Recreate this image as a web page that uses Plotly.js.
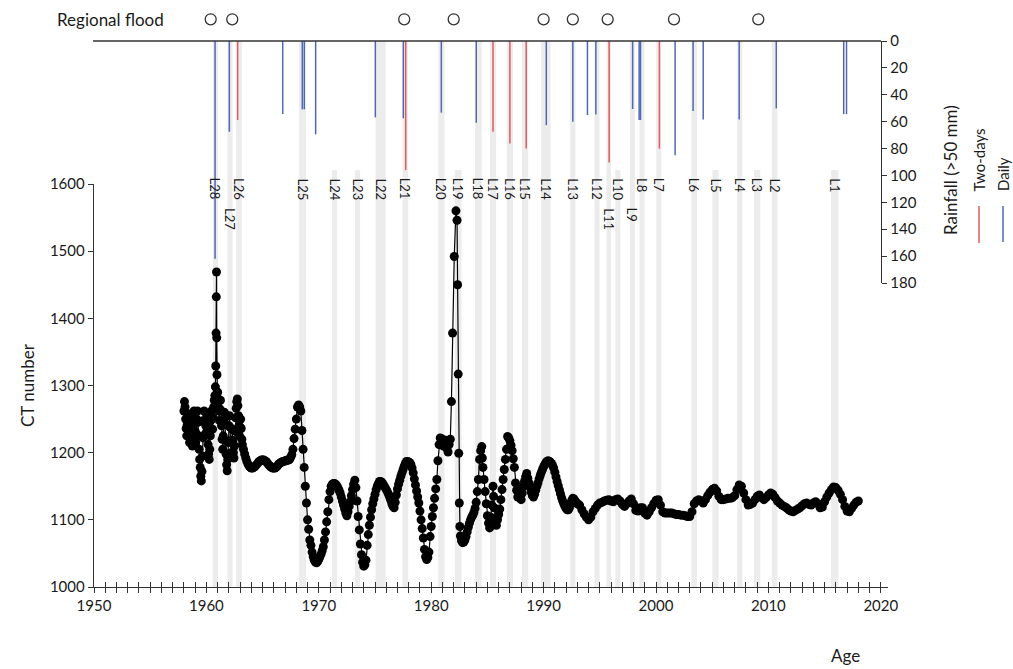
<!DOCTYPE html>
<html><head><meta charset="utf-8">
<script src="https://cdn.plot.ly/plotly-3.0.1.min.js"></script>
<style>html,body{margin:0;padding:0;background:#fff}#chart{width:1013px;height:669px}</style>
</head><body><div id="chart"></div>
<script>
// ---- CT number series ----
const ctYear = [
1958.0,1958.05,1958.1,1958.15,1958.2,1958.25,1958.3,1958.35,1958.4,1958.45,1958.5,1958.55,1958.6,1958.65,1958.7,1958.75,1958.8,1958.85,1958.9,1958.95,
1959.0,1959.05,1959.1,1959.15,1959.2,1959.25,1959.3,1959.35,1959.4,1959.45,1959.5,1959.55,1959.6,1959.65,1959.7,1959.75,1959.8,1959.85,1959.9,1959.95,
1960.0,1960.05,1960.1,1960.15,1960.2,1960.25,1960.3,1960.35,1960.4,1960.45,1960.5,1960.55,1960.6,1960.65,1960.7,1960.75,1960.8,1960.83,1960.86,1960.88,1960.9,1960.92,1960.94,1960.96,1960.98,
1961.0,1961.05,1961.1,1961.15,1961.2,1961.25,1961.3,1961.35,1961.4,1961.45,1961.5,1961.55,1961.6,1961.65,1961.7,1961.75,1961.8,1961.85,1961.9,1961.95,
1962.0,1962.05,1962.1,1962.15,1962.2,1962.25,1962.3,1962.35,1962.4,1962.45,1962.5,1962.55,1962.6,1962.65,1962.7,1962.75,1962.8,1962.85,1962.9,1962.95,
1963.0,1963.05,1963.1,1963.15,1963.2,1963.3,1963.4,1963.5,1963.6,1963.7,1963.8,1963.9,1964.0,1964.1,1964.2,
1964.3,1964.4,1964.5,1964.6,1964.7,1964.8,1964.9,1965.0,1965.1,1965.2,1965.3,1965.4,1965.5,1965.6,1965.7,1965.8,1965.9,
1966.0,1966.1,1966.2,1966.3,1966.4,1966.5,1966.6,1966.7,1966.8,1966.9,1967.0,1967.1,1967.2,1967.3,1967.4,1967.5,1967.6,1967.7,1967.8,1967.9,
1968.0,1968.1,1968.2,1968.3,1968.4,1968.5,1968.6,1968.7,1968.8,1968.9,1969.0,1969.1,1969.2,1969.3,1969.4,1969.5,1969.6,1969.7,1969.8,1969.9,
1970.0,1970.1,1970.2,1970.3,1970.4,1970.5,1970.6,1970.7,1970.8,1970.9,1971.0,1971.1,1971.2,1971.3,1971.4,1971.5,1971.6,1971.7,1971.8,1971.9,
1972.0,1972.1,1972.2,1972.3,1972.4,1972.5,1972.6,1972.7,1972.8,1972.9,1973.0,1973.1,1973.2,1973.3,1973.4,1973.5,1973.6,1973.7,1973.8,1973.9,
1974.0,1974.1,1974.2,1974.3,1974.4,1974.5,1974.6,1974.7,1974.8,1974.9,1975.0,1975.1,1975.2,1975.3,1975.4,1975.5,1975.6,1975.7,1975.8,1975.9,
1976.0,1976.1,1976.2,1976.3,1976.4,1976.5,1976.6,1976.7,1976.8,1976.9,1977.0,1977.1,1977.2,1977.3,1977.4,1977.5,1977.6,1977.7,1977.8,1977.9,
1978.0,1978.1,1978.2,1978.3,1978.4,1978.5,1978.6,1978.7,1978.8,1978.9,1979.0,1979.1,1979.2,1979.3,1979.4,1979.5,1979.6,1979.7,1979.8,1979.9,
1980.0,1980.1,1980.2,1980.3,1980.4,1980.5,1980.6,1980.7,1980.8,1980.9,1981.0,1981.1,1981.2,1981.3,1981.4,1981.5,1981.6,1981.7,1981.8,1981.9,
1982.05,1982.2,1982.3,1982.35,1982.4,1982.45,1982.5,1982.55,1982.6,1982.7,1982.8,1982.9,
1983.0,1983.1,1983.2,1983.3,1983.4,1983.5,1983.6,1983.7,1983.8,1983.9,1984.0,1984.1,1984.2,1984.3,1984.4,1984.5,1984.55,1984.6,1984.7,1984.8,1984.9,
1985.0,1985.1,1985.2,1985.3,1985.4,1985.5,1985.55,1985.6,1985.7,1985.8,1985.9,1986.0,1986.1,1986.2,1986.3,1986.4,1986.5,1986.6,1986.7,1986.8,1986.9,
1987.0,1987.1,1987.2,1987.3,1987.4,1987.5,1987.6,1987.7,1987.8,1987.9,1988.0,1988.1,1988.2,1988.3,1988.4,1988.5,1988.6,1988.7,1988.8,1988.9,
1989.0,1989.1,1989.2,1989.3,1989.4,1989.5,1989.6,1989.7,1989.8,1989.9,1990.0,1990.1,1990.2,1990.3,1990.4,1990.5,1990.6,1990.7,1990.8,1990.9,
1991.0,1991.1,1991.2,1991.3,1991.4,1991.5,1991.6,1991.7,1991.8,1991.9,1992.0,1992.1,1992.2,1992.3,1992.4,1992.5,1992.6,1992.7,1992.8,1992.9,1993.0,
1993.2,1993.4,1993.6,1993.8,1994.0,1994.2,1994.4,1994.6,1994.8,1995.0,1995.2,1995.4,1995.6,1995.8,1996.0,1996.2,1996.4,1996.6,1996.8,1997.0,
1997.2,1997.4,1997.6,1997.8,1998.0,1998.2,1998.4,1998.6,1998.8,1999.0,1999.2,1999.4,1999.6,1999.8,2000.0,2000.2,2000.4,2000.6,2000.8,2001.0,
2001.2,2001.4,2001.6,2001.8,2002.0,2002.2,2002.4,2002.6,2002.8,2003.0,2003.2,2003.4,2003.6,2003.8,2004.0,2004.2,2004.4,2004.6,2004.8,2005.0,
2005.2,2005.4,2005.6,2005.8,2006.0,2006.2,2006.4,2006.6,2006.8,2007.0,2007.2,2007.4,2007.6,2007.8,2008.0,2008.2,2008.4,2008.6,2008.8,2009.0,
2009.2,2009.4,2009.6,2009.8,2010.0,2010.2,2010.4,2010.6,2010.8,2011.0,2011.2,2011.4,2011.6,2011.8,2012.0,2012.2,2012.4,2012.6,2012.8,2013.0,
2013.2,2013.4,2013.6,2013.8,2014.0,2014.2,2014.4,2014.6,2014.8,2015.0,2015.2,2015.4,2015.6,2015.8,2016.0,2016.2,2016.4,2016.6,2016.8,2017.0,
2017.2,2017.4,2017.6,2017.8,2018.0
];
const ctValue = [
1262,1276,1268,1250,1236,1225,1242,1258,1244,1228,1215,1232,1252,1240,1222,1210,1228,1248,1262,1250,
1232,1215,1228,1250,1262,1245,1225,1205,1190,1178,1165,1158,1172,1195,1222,1248,1262,1245,1228,1240,
1258,1248,1230,1212,1198,1190,1205,1225,1248,1262,1250,1235,1252,1268,1278,1285,1298,1329,1378,1432,1469,1371,1316,1290,1282,
1290,1275,1262,1248,1265,1278,1262,1240,1220,1205,1225,1248,1260,1242,1218,1198,1182,1173,1190,1215,
1240,1255,1238,1218,1200,1215,1235,1218,1200,1192,1210,1232,1252,1266,1276,1280,1270,1255,1240,1225,
1238,1250,1236,1220,1212,1205,1198,1192,1187,1183,1180,1178,1177,1177,1178,
1179,1181,1183,1185,1187,1188,1189,1189,1189,1188,1187,1185,1183,1181,1179,1178,1177,
1177,1177,1178,1180,1182,1184,1185,1186,1187,1187,1188,1188,1189,1189,1190,1193,1197,1205,1221,1235,
1250,1268,1271,1268,1262,1233,1205,1178,1150,1125,1100,1086,1070,1062,1052,1045,1040,1037,1036,1038,
1041,1045,1049,1054,1060,1070,1082,1097,1112,1130,1142,1150,1153,1154,1154,1153,1151,1148,1144,1140,
1134,1128,1122,1116,1110,1106,1112,1120,1127,1136,1145,1153,1159,1148,1128,1105,1085,1064,1048,1037,
1031,1033,1040,1062,1078,1092,1104,1115,1124,1131,1138,1145,1150,1154,1157,1157,1156,1154,1151,1148,
1145,1142,1138,1134,1129,1124,1120,1118,1126,1137,1146,1153,1159,1165,1170,1175,1180,1184,1187,1187,
1186,1185,1182,1177,1170,1161,1152,1143,1134,1125,1113,1100,1087,1073,1056,1045,1041,1044,1052,1075,
1090,1105,1118,1132,1146,1160,1188,1212,1222,1221,1216,1210,1219,1214,1206,1201,1212,1220,1276,1378,
1492,1560,1546,1450,1317,1199,1125,1090,1076,1069,1066,1067,
1070,1075,1082,1089,1095,1100,1104,1107,1111,1117,1126,1142,1160,1190,1203,1209,1192,1178,1160,1142,1124,
1106,1095,1088,1104,1122,1150,1135,1118,1100,1092,1100,1108,1116,1130,1145,1160,1175,1190,1205,1224,1222,
1218,1211,1203,1191,1178,1155,1144,1134,1142,1135,1130,1140,1150,1157,1164,1169,1162,1155,1148,1141,
1136,1134,1138,1144,1150,1155,1161,1166,1171,1175,1179,1182,1185,1187,1188,1187,1186,1184,1181,1177,
1171,1164,1157,1151,1145,1139,1133,1128,1124,1120,1117,1115,1115,1118,1124,1129,1132,1131,1128,1126,1124,
1122,1115,1109,1104,1100,1104,1112,1117,1122,1125,1126,1128,1129,1130,1128,1127,1130,1131,1128,1123,
1120,1124,1128,1131,1124,1114,1113,1118,1118,1110,1107,1112,1118,1124,1129,1130,1122,1112,1110,1110,
1110,1110,1109,1108,1108,1107,1107,1106,1105,1105,1112,1124,1128,1130,1128,1125,1130,1136,1141,1145,
1147,1143,1135,1130,1130,1131,1132,1132,1133,1136,1145,1152,1150,1140,1130,1122,1123,1125,1130,1135,
1137,1133,1130,1133,1137,1140,1138,1133,1128,1125,1122,1120,1118,1115,1113,1112,1114,1116,1118,1121,
1124,1125,1123,1122,1125,1127,1124,1118,1119,1127,1134,1140,1145,1149,1148,1144,1138,1130,1120,1113,
1112,1117,1122,1126,1128
];

// ---- Rainfall (>50 mm) ----
const dailyYear = [1960.77,1962.04,1966.79,1968.53,1968.71,1969.72,1975.03,1977.52,1980.9,1984.01,1990.24,1992.6,1993.9,1994.65,1997.92,1998.5,1998.62,2001.7,2003.3,2004.2,2007.4,2010.7,2016.7,2016.95];
const dailyMm   = [162,67.5,54.3,50.8,50.8,69.4,56.8,57.5,53.3,60.8,62.6,60,55.1,54.6,50.6,58.8,58.8,85,52.1,58.3,58.3,50.1,54.4,54.4];
const twoDayYear = [1962.78,1977.73,1985.5,1987.0,1988.45,1995.83,2000.3];
const twoDayMm   = [58.8,96,67.5,76.2,80,90.4,80];

// ---- Regional floods ----
const floodYear = [1960.38,1962.3,1977.6,1982.0,1990.0,1992.6,1995.7,2001.6,2009.1];

// ---- Layers L1..L28 ----
const layerName = ['L28','L27','L26','L25','L24','L23','L22','L21','L20','L19','L18','L17','L16','L15','L14','L13','L12','L11','L10','L9','L8','L7','L6','L5','L4','L3','L2','L1'];
const layerYear = [1960.8,1962.1,1962.9,1968.55,1971.4,1973.45,1975.5,1977.7,1980.9,1982.4,1984.2,1985.5,1987.0,1988.35,1990.2,1992.6,1994.75,1995.8,1996.6,1997.9,1998.75,2000.25,2003.4,2005.3,2007.45,2009.0,2010.55,2015.9];
const layerWidth = [0.45,0.45,0.5,0.6,0.45,0.45,0.9,0.5,0.55,0.6,0.6,0.55,0.55,0.55,0.85,0.45,0.45,0.4,0.45,0.45,0.45,0.45,0.5,0.55,0.45,0.55,0.5,0.65];
const lowerLabels = ['L27','L11','L9'];

const xTickYears = [1950,1960,1970,1980,1990,2000,2010,2020];
const ctTicks = [1000,1100,1200,1300,1400,1500,1600];
const rainTicks = [0,20,40,60,80,100,120,140,160,180];

// ---- geometry helpers (page pixels -> paper) ----
const W = 1013, H = 669, ML = 94, MR = 125, MT = 5, MB = 82;
const PW = W - ML - MR, PH = H - MT - MB;
const py = y => (H - MB - y) / PH;
const px = x => (x - ML) / PW;

const FONT = 'Lato, "Open Sans", sans-serif';
const INK = '#1a1a1a';
const BLUE = '#5068b4';
const RED = '#e05a5e';

function stems(xs, vs) {
  const x = [], y = [];
  xs.forEach((t, i) => { x.push(t, t, null); y.push(0, vs[i], null); });
  return {x, y};
}
const dStem = stems(dailyYear, dailyMm);
const tStem = stems(twoDayYear, twoDayMm);

const traces = [
  {type:'scatter', mode:'lines', x:dStem.x, y:dStem.y, xaxis:'x', yaxis:'y2',
   line:{color:BLUE, width:1.5}, hoverinfo:'skip', showlegend:false},
  {type:'scatter', mode:'lines', x:tStem.x, y:tStem.y, xaxis:'x', yaxis:'y2',
   line:{color:RED, width:1.5}, hoverinfo:'skip', showlegend:false},
  {type:'scatter', mode:'lines+markers', x:ctYear, y:ctValue, xaxis:'x', yaxis:'y',
   line:{color:'#000', width:1.2}, marker:{color:'#000', size:9}, showlegend:false, cliponaxis:false},
  {type:'scatter', mode:'markers', x:floodYear, y:floodYear.map(()=>0), xaxis:'x2', yaxis:'y3',
   marker:{symbol:'circle-open', size:11, color:'#333', line:{width:1.3}}, showlegend:false}
];

const allRainYears = dailyYear.concat(twoDayYear);
const shapes = [];
layerYear.forEach((c, i) => {
  const hasRain = allRainYears.some(r => Math.abs(r - c) <= 0.55);
  shapes.push({type:'rect', layer:'below', xref:'x', yref:'paper',
    x0: c - layerWidth[i]/2, x1: c + layerWidth[i]/2,
    y0: 0, y1: hasRain ? py(41) : py(170),
    fillcolor:'#ececec', line:{width:0}});
});
// rainfall zero line
shapes.push({type:'line', xref:'paper', yref:'paper', x0:px(93), x1:px(881), y0:py(41), y1:py(41),
  line:{color:'#333', width:1.3}});
// legend swatches (rotated legend)
shapes.push({type:'line', xref:'paper', yref:'paper', x0:px(979), x1:px(979), y0:py(243), y1:py(206), line:{color:RED, width:1.5}});
shapes.push({type:'line', xref:'paper', yref:'paper', x0:px(1003), x1:px(1003), y0:py(242), y1:py(206), line:{color:BLUE, width:1.5}});

const annotations = [];
layerYear.forEach((c, i) => {
  const low = lowerLabels.includes(layerName[i]);
  annotations.push({text:layerName[i], xref:'x', yref:'paper', x:c, y: low ? py(206) : py(176),
    xanchor:'center', yanchor:'top', textangle:90, showarrow:false,
    font:{family:FONT, size:13, color:INK}});
});
annotations.push({text:'Regional flood', xref:'paper', yref:'paper', x:px(55), y:py(19),
  xanchor:'left', yanchor:'middle', showarrow:false, font:{family:FONT, size:17, color:INK}});
annotations.push({text:'CT number', xref:'paper', yref:'paper', x:px(27), y:py(385),
  xanchor:'center', yanchor:'middle', textangle:-90, showarrow:false, font:{family:FONT, size:17, color:INK}});
annotations.push({text:'Age', xref:'paper', yref:'paper', x:px(845), y:py(655),
  xanchor:'center', yanchor:'middle', showarrow:false, font:{family:FONT, size:17, color:INK}});
annotations.push({text:'Rainfall (>50 mm)', xref:'paper', yref:'paper', x:px(950), y:py(170),
  xanchor:'center', yanchor:'middle', textangle:-90, showarrow:false, font:{family:FONT, size:17, color:INK}});
annotations.push({text:'Two-days', xref:'paper', yref:'paper', x:px(979), y:py(193),
  xanchor:'center', yanchor:'bottom', textangle:-90, showarrow:false, font:{family:FONT, size:15, color:INK}});
annotations.push({text:'Daily', xref:'paper', yref:'paper', x:px(1003), y:py(193),
  xanchor:'center', yanchor:'bottom', textangle:-90, showarrow:false, font:{family:FONT, size:15, color:INK}});

const tickFont = {family:FONT, size:15, color:INK};
const xRange = [1950, 1950 + PW/11.24];
const layout = {
  width:W, height:H, margin:{l:ML, r:MR, t:MT, b:MB},
  paper_bgcolor:'#fff', plot_bgcolor:'rgba(0,0,0,0)', showlegend:false,
  xaxis:{domain:[0,1], range:xRange, anchor:'y',
    tickvals:xTickYears, ticks:'outside', ticklen:5, tickwidth:1, tickcolor:'#333',
    minor:{dtick:1, tick0:1950, ticks:'outside', ticklen:5, tickwidth:1, tickcolor:'#333', showgrid:false},
    showline:true, linecolor:'#333', linewidth:1.3, showgrid:false, zeroline:false, tickfont:tickFont},
  xaxis2:{domain:[0,1], range:xRange, overlaying:'x', anchor:'y', dtick:1, tick0:1950, ticks:'inside', ticklen:5, tickwidth:1, tickcolor:'#333',
    showticklabels:false, showline:false, showgrid:false, zeroline:false},
  yaxis:{domain:[0, py(184)], range:[1000,1600], anchor:'x', tickvals:ctTicks, ticks:'outside', ticklen:5,
    tickcolor:'#333', showline:true, linecolor:'#333', linewidth:1.3, showgrid:false, zeroline:false, tickfont:tickFont},
  yaxis2:{domain:[py(283), py(41)], range:[180,0], anchor:'free', position:px(881), side:'right',
    tickvals:rainTicks, ticks:'outside', ticklen:5, tickcolor:'#333', showline:true, linecolor:'#333', linewidth:1.3,
    showgrid:false, zeroline:false, tickfont:tickFont},
  yaxis3:{domain:[py(19)-0.025, py(19)+0.025], range:[-1,1], anchor:'x2', visible:false},
  shapes:shapes, annotations:annotations
};
Plotly.newPlot('chart', traces, layout, {staticPlot:true, displayModeBar:false});
</script></body></html>
